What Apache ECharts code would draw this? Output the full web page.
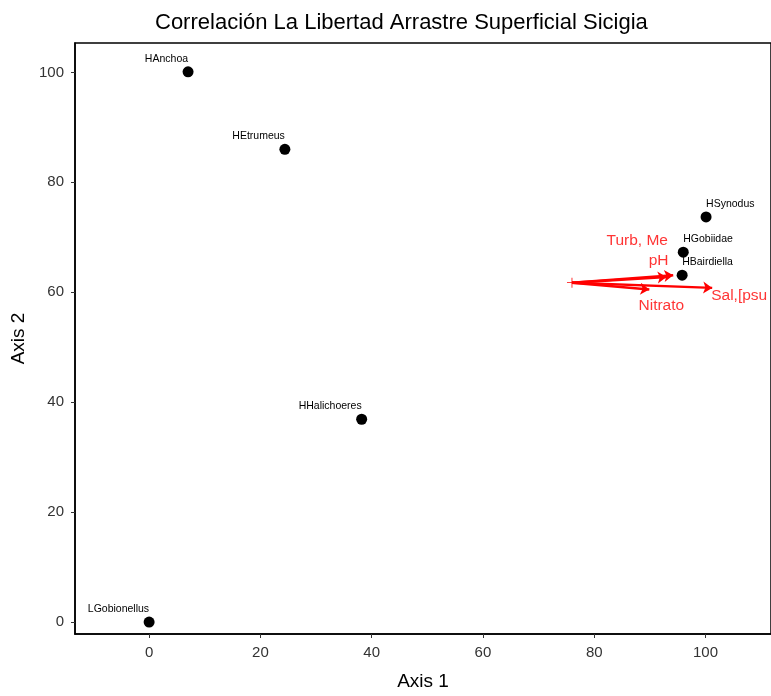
<!DOCTYPE html>
<html><head><meta charset="utf-8">
<script src="https://cdn.jsdelivr.net/npm/echarts@6/dist/echarts.min.js"></script>
<style>html,body{margin:0;padding:0;background:#fff}#c{width:771px;height:696px}</style>
</head><body><div id="c"></div>
<script>
var speciesNames = ['HAnchoa','HEtrumeus','HSynodus','HGobiidae','HBairdiella','HHalichoeres','LGobionellus'];
var speciesX = [7.0, 24.4, 100.1, 96.0, 95.8, 38.2, 0.0];
var speciesY = [100.1, 86.0, 73.7, 67.3, 63.1, 36.9, 0.0];
var vectorNames = ['Turb, Me', 'pH', 'Nitrato', 'Sal,[psu'];
var vectorOrigin = [76.0, 61.75];
var vectorEndX = [94.2, 93.0, 89.9, 101.2];
var vectorEndY = [63.1, 62.8, 60.5, 60.8];
var xTicks = [0, 20, 40, 60, 80, 100];
var yTicks = [0, 20, 40, 60, 80, 100];

var speciesAlign = {HAnchoa:'right',HEtrumeus:'right',HHalichoeres:'right',LGobionellus:'right',HSynodus:'left',HGobiidae:'left',HBairdiella:'left'};
var vecLabelOffset = {'Turb, Me':[-36,-35],'pH':[-8,-16],'Nitrato':[12,16],'Sal,[psu':[27,8]};

var font = 'Liberation Sans, Arial, sans-serif';
var chart = echarts.init(document.getElementById('c'));
var speciesData = speciesNames.map(function(n,i){
  return {value:[speciesX[i], speciesY[i]], name:n,
    label:{align: speciesAlign[n], offset:[0,-13]}};
});
var vecLines = vectorNames.map(function(n,i){
  return {coords:[vectorOrigin, [vectorEndX[i], vectorEndY[i]]]};
});
var vecLabels = vectorNames.map(function(n,i){
  return {value:[vectorEndX[i], vectorEndY[i]], name:n, label:{offset: vecLabelOffset[n]}};
});
chart.setOption({
  animation:false,
  backgroundColor:'#fff',
  title:{text:'Correlación La Libertad Arrastre Superficial Sicigia', left:150, top:7,
    textStyle:{fontFamily:font, fontSize:22, fontWeight:'normal', color:'#000'}},
  grid:{left:75, right:-2, top:43, bottom:58, show:true, borderColor:'#000', borderWidth:1.5},
  xAxis:{type:'value', min:-13.32, max:111.77, name:'Axis 1', nameLocation:'middle', nameGap:38,
    nameTextStyle:{fontFamily:font, fontSize:19, color:'#000'},
    axisLine:{show:true, onZero:false, lineStyle:{color:'#000', width:1.5}},
    axisTick:{show:true, length:4, customValues:xTicks, lineStyle:{color:'#333'}},
    axisLabel:{customValues:xTicks, fontFamily:font, fontSize:15, color:'#333', margin:11},
    splitLine:{show:false}},
  yAxis:{type:'value', min:-2.17, max:105.35, name:'Axis 2', nameLocation:'middle', nameGap:44,
    nameTextStyle:{fontFamily:font, fontSize:19, color:'#000'},
    axisLine:{show:true, onZero:false, lineStyle:{color:'#000', width:1.5}},
    axisTick:{show:true, length:4, customValues:yTicks, lineStyle:{color:'#333'}},
    axisLabel:{customValues:yTicks, fontFamily:font, fontSize:15, color:'#333', margin:11},
    splitLine:{show:false}},
  series:[
    {type:'scatter', data:speciesData, symbolSize:11, itemStyle:{color:'#000', opacity:1},
      label:{show:true, position:'inside', formatter:'{b}', fontFamily:font, fontSize:10.5, color:'#000', verticalAlign:'middle'}},
    {type:'lines', coordinateSystem:'cartesian2d', data:vecLines, symbol:['none','arrow'], symbolSize:[6,9],
      lineStyle:{color:'#ff0000', width:2.5, opacity:1}},
    {type:'scatter', data:[vectorOrigin], symbol:'path://M4.6,0H5.4V4.6H10V5.4H5.4V10H4.6V5.4H0V4.6H4.6Z', symbolSize:10,
      itemStyle:{color:'#ff0000', opacity:1}},
    {type:'scatter', data:vecLabels, symbolSize:1, itemStyle:{color:'rgba(0,0,0,0)'},
      label:{show:true, position:'inside', formatter:'{b}', fontFamily:font, fontSize:15.5, color:'#ff0000', verticalAlign:'middle'}}
  ]
});
</script></body></html>
